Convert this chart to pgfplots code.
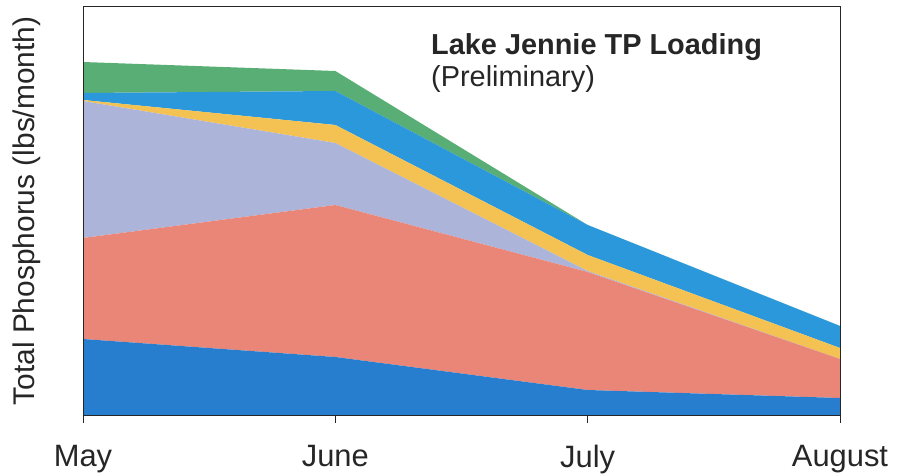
\documentclass[border=0pt]{standalone}
\usepackage{pgfplots}
\pgfplotsset{compat=1.18}
\usepackage{fontspec}
\setmainfont{Liberation Sans}
\definecolor{cBlueA}{RGB}{40,126,206}
\definecolor{cSalmon}{RGB}{234,134,120}
\definecolor{cLav}{RGB}{172,180,218}
\definecolor{cYellow}{RGB}{244,194,82}
\definecolor{cBlueB}{RGB}{44,152,220}
\definecolor{cGreen}{RGB}{88,174,116}
\begin{document}
\begin{tikzpicture}
\useasboundingbox (0,0) rectangle (909bp,474bp);
\begin{axis}[
  at={(83bp,59bp)}, anchor=south west,
  scale only axis, width=757bp, height=408bp,
  xmin=0, xmax=3, ymin=0, ymax=408,
  stack plots=y,
  xtick={0,1,2,3}, xticklabels={May,June,July,August},
  ytick=\empty,
  tick align=outside, xtick pos=bottom, major tick length=8bp,
  tick style={black!85, line width=0.8bp},
  axis line style={black!85, line width=1bp},
  xticklabel style={font=\fontsize{31}{33}\selectfont, text=black!85, yshift=-19bp},
  ylabel={Total Phosphorus (lbs/month)},
  ylabel style={font=\fontsize{30}{32}\selectfont, text=black!85, at={(axis description cs:-0.074,0.5)}, anchor=center},
  axis on top,
]
\addplot[fill=cBlueA, draw=none] coordinates {(0,76) (1,58) (2,25) (3,17)} \closedcycle;
\addplot[fill=cSalmon, draw=none] coordinates {(0,101) (1,152) (2,118) (3,39)} \closedcycle;
\addplot[fill=cLav, draw=none] coordinates {(0,137) (1,62) (2,1) (3,0)} \closedcycle;
\addplot[fill=cYellow, draw=none] coordinates {(0,1) (1,18) (2,16) (3,11)} \closedcycle;
\addplot[fill=cBlueB, draw=none] coordinates {(0,7) (1,34) (2,30) (3,22)} \closedcycle;
\addplot[fill=cGreen, draw=none] coordinates {(0,31) (1,20) (2,0) (3,0)} \closedcycle;
\end{axis}
\node[anchor=base west, inner sep=0pt, font=\fontsize{29}{31}\selectfont\bfseries, text=black!85] at (431bp,419bp) {Lake Jennie TP Loading};
\node[anchor=base west, inner sep=0pt, font=\fontsize{29}{31}\selectfont, text=black!85] at (431bp,387bp) {(Preliminary)};
\end{tikzpicture}
\end{document}
